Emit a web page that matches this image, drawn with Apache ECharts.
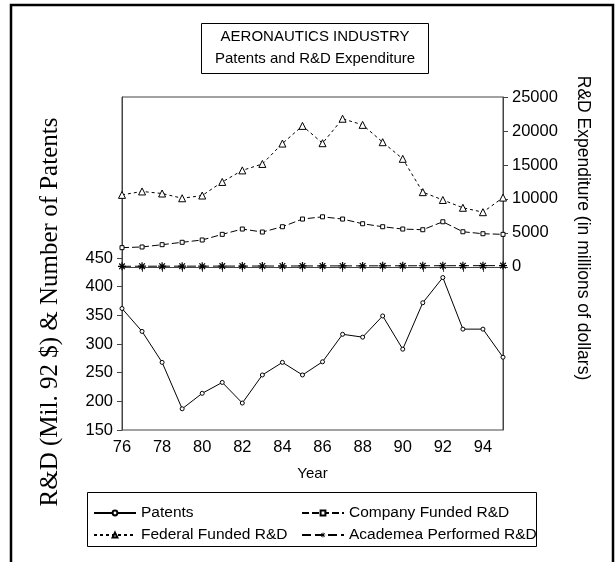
<!DOCTYPE html>
<html>
<head>
<meta charset="utf-8">
<script src="https://cdn.jsdelivr.net/npm/echarts@6/dist/echarts.min.js"></script>
<style>
  html, body { margin: 0; padding: 0; background: #fff; }
  #chart { width: 615px; height: 562px; }
</style>
</head>
<body>
<div id="chart"></div>
<script>
// Years (two-digit) along the bottom axis
const years = ['76','77','78','79','80','81','82','83','84','85','86','87','88','89','90','91','92','93','94','95'];

// Number of patents (left axis)
const patents = [362, 322, 268, 187, 214, 233, 197, 246, 268, 246, 269, 317, 312, 349, 291, 372, 416, 326, 326, 277];

// R&D expenditure, millions of 1992 dollars (right axis)
const companyRD = [2830, 2930, 3270, 3620, 3960, 4790, 5570, 5130, 5910, 7040, 7370, 7040, 6350, 5910, 5570, 5470, 6640, 5170, 4880, 4790];
const federalRD = [10600, 11100, 10800, 10100, 10500, 12500, 14200, 15150, 18150, 20750, 18200, 21800, 20900, 18350, 15900, 11000, 9850, 8700, 8050, 10200];
const academeaRD = [90, 100, 100, 110, 110, 120, 120, 130, 130, 140, 140, 150, 150, 160, 160, 170, 170, 180, 180, 190];

// Tick labels shown on each vertical axis
const patentTicks = [150, 200, 250, 300, 350, 400, 450];
const expenditureTicks = [0, 5000, 10000, 15000, 20000, 25000];

const ink = '#000';
const axisInk = '#444';
const sans = 'Liberation Sans, Arial, sans-serif';

// Asterisk marker built from four bars
const asterisk = 'path://M8.5 0L11.5 0L11.5 20L8.5 20Z M0 8.5L20 8.5L20 11.5L0 11.5Z ' +
  'M1.9 4L4 1.9L18.1 16L16 18.1Z M16 1.9L18.1 4L4 18.1L1.9 16Z';

const plain = v => String(v);

const chart = echarts.init(document.getElementById('chart'), null, { renderer: 'canvas' });

chart.setOption({
  animation: false,
  backgroundColor: '#fff',
  textStyle: { fontFamily: sans, color: ink },
  grid: {
    left: 122, right: 112, top: 97, bottom: 132,
    show: true, borderColor: axisInk, borderWidth: 1, backgroundColor: 'transparent'
  },
  xAxis: {
    type: 'category',
    data: years,
    boundaryGap: false,
    name: 'Year',
    nameLocation: 'middle',
    nameGap: 36,
    nameTextStyle: { fontFamily: sans, fontSize: 15, color: ink },
    axisLine: { lineStyle: { color: axisInk, width: 1 } },
    axisTick: { show: true, interval: 0, length: 5, inside: false, lineStyle: { color: axisInk } },
    axisLabel: { interval: 1, margin: 9, fontSize: 16.5, color: ink, fontFamily: sans },
    splitLine: { show: false }
  },
  yAxis: [
    {
      type: 'value',
      position: 'left',
      min: 150, max: 731,
      axisLine: { show: true, lineStyle: { color: axisInk, width: 1 } },
      axisTick: { show: true, length: 5, customValues: patentTicks, lineStyle: { color: axisInk } },
      axisLabel: { customValues: patentTicks, formatter: plain, margin: 9, fontSize: 16.5, color: ink, fontFamily: sans },
      splitLine: { show: false }
    },
    {
      type: 'value',
      position: 'right',
      min: -24000, max: 25000,
      axisLine: { show: true, lineStyle: { color: axisInk, width: 1 } },
      axisTick: { show: true, length: 5, customValues: expenditureTicks, lineStyle: { color: axisInk } },
      axisLabel: { customValues: expenditureTicks, formatter: plain, margin: 9, fontSize: 16.5, color: ink, fontFamily: sans },
      splitLine: { show: false }
    }
  ],
  legend: [
    {
      orient: 'vertical', left: 93, top: 505, padding: 0,
      itemWidth: 42, itemHeight: 6, itemGap: 6,
      textStyle: { fontFamily: sans, fontSize: 15.5, color: ink },
      data: ['Patents', 'Federal Funded R&D']
    },
    {
      orient: 'vertical', left: 301, top: 505, padding: 0,
      itemWidth: 42, itemHeight: 6, itemGap: 6,
      textStyle: { fontFamily: sans, fontSize: 15.5, color: ink },
      data: ['Company Funded R&D', 'Academea Performed R&D']
    }
  ],
  series: [
    {
      name: 'Patents', type: 'line', yAxisIndex: 0, data: patents,
      symbol: 'circle', symbolSize: 4, showAllSymbol: true,
      lineStyle: { color: ink, width: 1, type: 'solid' },
      itemStyle: { color: '#fff', borderColor: ink, borderWidth: 1 }
    },
    {
      name: 'Company Funded R&D', type: 'line', yAxisIndex: 1, data: companyRD,
      symbol: 'rect', symbolSize: 4, showAllSymbol: true,
      lineStyle: { color: ink, width: 1, type: [7, 3] },
      itemStyle: { color: '#fff', borderColor: ink, borderWidth: 1 }
    },
    {
      name: 'Federal Funded R&D', type: 'line', yAxisIndex: 1, data: federalRD,
      symbol: 'triangle', symbolSize: 7, showAllSymbol: true,
      lineStyle: { color: ink, width: 1, type: [3, 3] },
      itemStyle: { color: '#fff', borderColor: ink, borderWidth: 1 }
    },
    {
      name: 'Academea Performed R&D', type: 'line', yAxisIndex: 1, data: academeaRD,
      symbol: asterisk, symbolSize: 8, showAllSymbol: true,
      lineStyle: { color: ink, width: 1, type: [9, 4] },
      itemStyle: { color: ink, borderWidth: 0 }
    }
  ],
  graphic: [
    // outer frame
    { type: 'rect', shape: { x: 11, y: 5, width: 602, height: 570 }, style: { fill: 'none', stroke: ink, lineWidth: 2.5 }, silent: true },
    // title box and its two centred lines
    { type: 'rect', shape: { x: 201.5, y: 23.5, width: 227, height: 50 }, style: { fill: 'none', stroke: ink, lineWidth: 1 }, silent: true },
    { type: 'text', x: 315, y: 37,
      style: { text: 'AERONAUTICS INDUSTRY', font: '15px "Liberation Sans", Arial, sans-serif', fill: ink, align: 'center', verticalAlign: 'middle' } },
    { type: 'text', x: 315, y: 59,
      style: { text: 'Patents and R&D Expenditure', font: '15px "Liberation Sans", Arial, sans-serif', fill: ink, align: 'center', verticalAlign: 'middle' } },
    // legend box
    { type: 'rect', shape: { x: 87.5, y: 492.5, width: 449, height: 54 }, style: { fill: 'none', stroke: ink, lineWidth: 1 }, silent: true },
    // left axis title
    { type: 'text', x: 50, y: 312, rotation: Math.PI / 2,
      style: { text: 'R&D (Mil. 92 $) & Number of Patents', font: '25px "Liberation Serif", "Times New Roman", serif', fill: ink, align: 'center', verticalAlign: 'middle' } },
    // right axis title
    { type: 'text', x: 583, y: 228, rotation: -Math.PI / 2,
      style: { text: 'R&D Expenditure (in millions of dollars)', font: '17.5px "Liberation Sans", Arial, sans-serif', fill: ink, align: 'center', verticalAlign: 'middle' } }
  ]
});
</script>
</body>
</html>
